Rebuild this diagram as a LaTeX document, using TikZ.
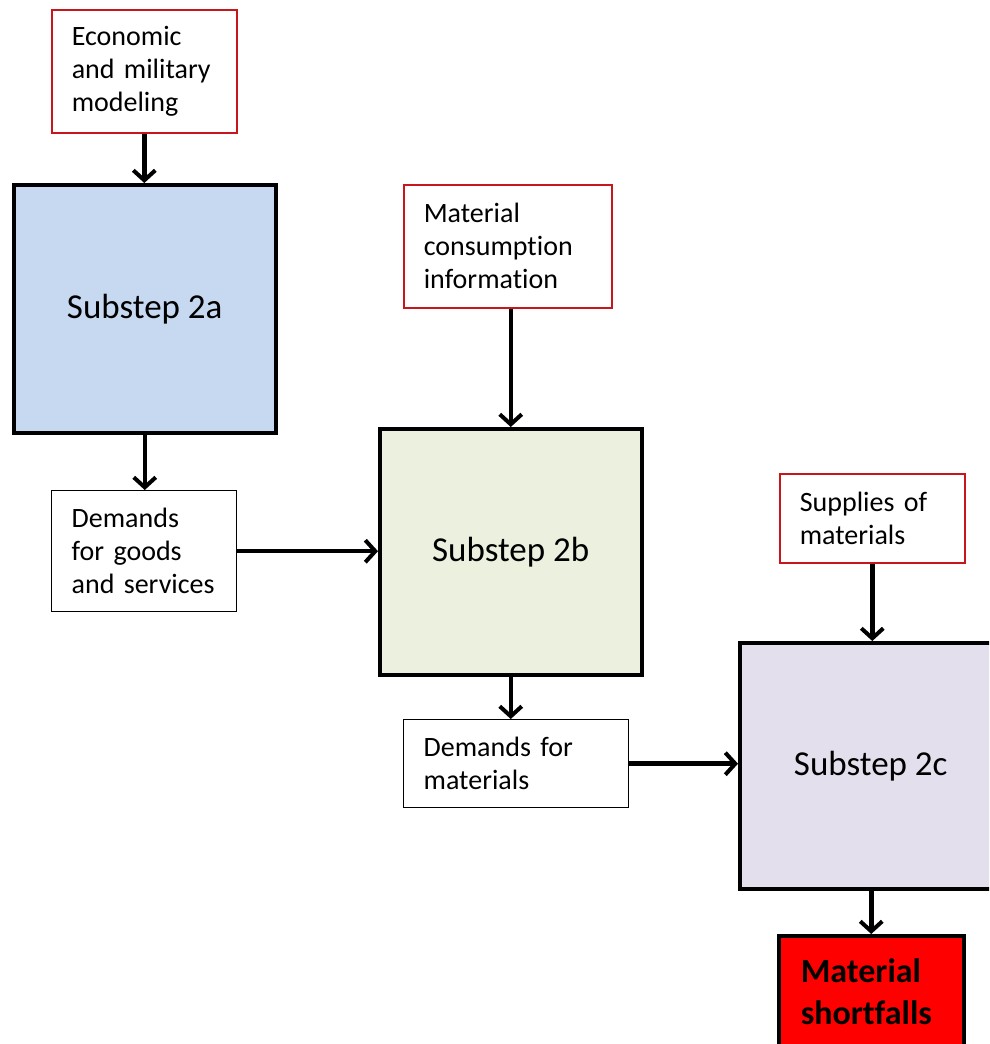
\documentclass[tikz,border=0pt]{standalone}
\usepackage{fontspec}
\setmainfont{Carlito}[RawFeature={-liga}]
\usetikzlibrary{arrows.meta}
\definecolor{boxred}{HTML}{C8161D}
\definecolor{fillA}{HTML}{C6D9F1}
\definecolor{fillB}{HTML}{EBF1DE}
\definecolor{fillC}{HTML}{E4DFEC}
\newcommand{\smallfont}{\fontsize{28}{33}\selectfont\spaceskip=0.2em\relax}
\begin{document}
\begin{tikzpicture}[x=1pt,y=-1pt,
  inbox/.style={draw=boxred,line width=1.6pt,fill=white,inner xsep=20pt,inner ysep=0pt,align=left,
    font=\smallfont,anchor=north west},
  outbox/.style={draw=black,line width=1.4pt,fill=white,inner xsep=20pt,inner ysep=0pt,align=left,
    font=\smallfont,anchor=north west},
  stepbox/.style={draw=black,line width=3.5pt,minimum width=262pt,minimum height=248pt,
    font=\fontsize{35}{42}\selectfont,anchor=north west,inner sep=0pt},
  conn/.style={line width=4.5pt,-{Straight Barb[length=10pt,width=22pt,line width=4pt]}}
]
\clip (0,0) rectangle (989,1044);
\fill[white] (0,0) rectangle (989,1044);
% input boxes
\node[inbox,text width=145pt,minimum height=123pt] (econ) at (51,9) {Economic\\and military\\modeling};
\node[inbox,text width=168pt,minimum height=123pt] (mat) at (403,184) {Material\\consumption\\information};
\node[inbox,text width=145pt,minimum height=89pt] (sup) at (779,473) {Supplies of\\materials};
% substeps
\node[stepbox,fill=fillA] (s2a) at (12,183) {Substep 2a};
\node[stepbox,fill=fillB,minimum height=246pt] (s2b) at (378,427) {Substep 2b};
\node[stepbox,fill=fillC,minimum height=246pt] (s2c) at (738,641) {Substep 2c};
% outputs
\node[outbox,text width=145pt,minimum height=121pt] (goods) at (51,490) {Demands\\for goods\\and services};
\node[outbox,text width=185pt,minimum height=88pt] (dmat) at (403,719) {Demands for\\materials};
\node[draw=black,line width=3.5pt,fill=red,anchor=north west,minimum width=185pt,minimum height=130pt,
  inner xsep=22pt,inner ysep=0pt,text width=141pt,align=left,
  font=\bfseries\fontsize{34}{42}\selectfont] (short) at (777,934) {\\[-36pt]Material\\shortfalls};
% connectors
\draw[conn] (econ.south) -- (econ.south |- s2a.north);
\draw[conn] (mat.south -| s2b.north) -- (s2b.north);
\draw[conn] (s2a.south) -- (s2a.south |- goods.north);
\draw[conn] (goods.east) -- (goods.east -| s2b.west);
\draw[conn] (sup.south) -- (sup.south |- s2c.north);
\draw[conn] (s2b.south) -- (s2b.south |- dmat.north);
\draw[conn] (dmat.east) -- (dmat.east -| s2c.west);
\draw[conn] (s2c.south -| short.north) -- (short.north);
\end{tikzpicture}
\end{document}
